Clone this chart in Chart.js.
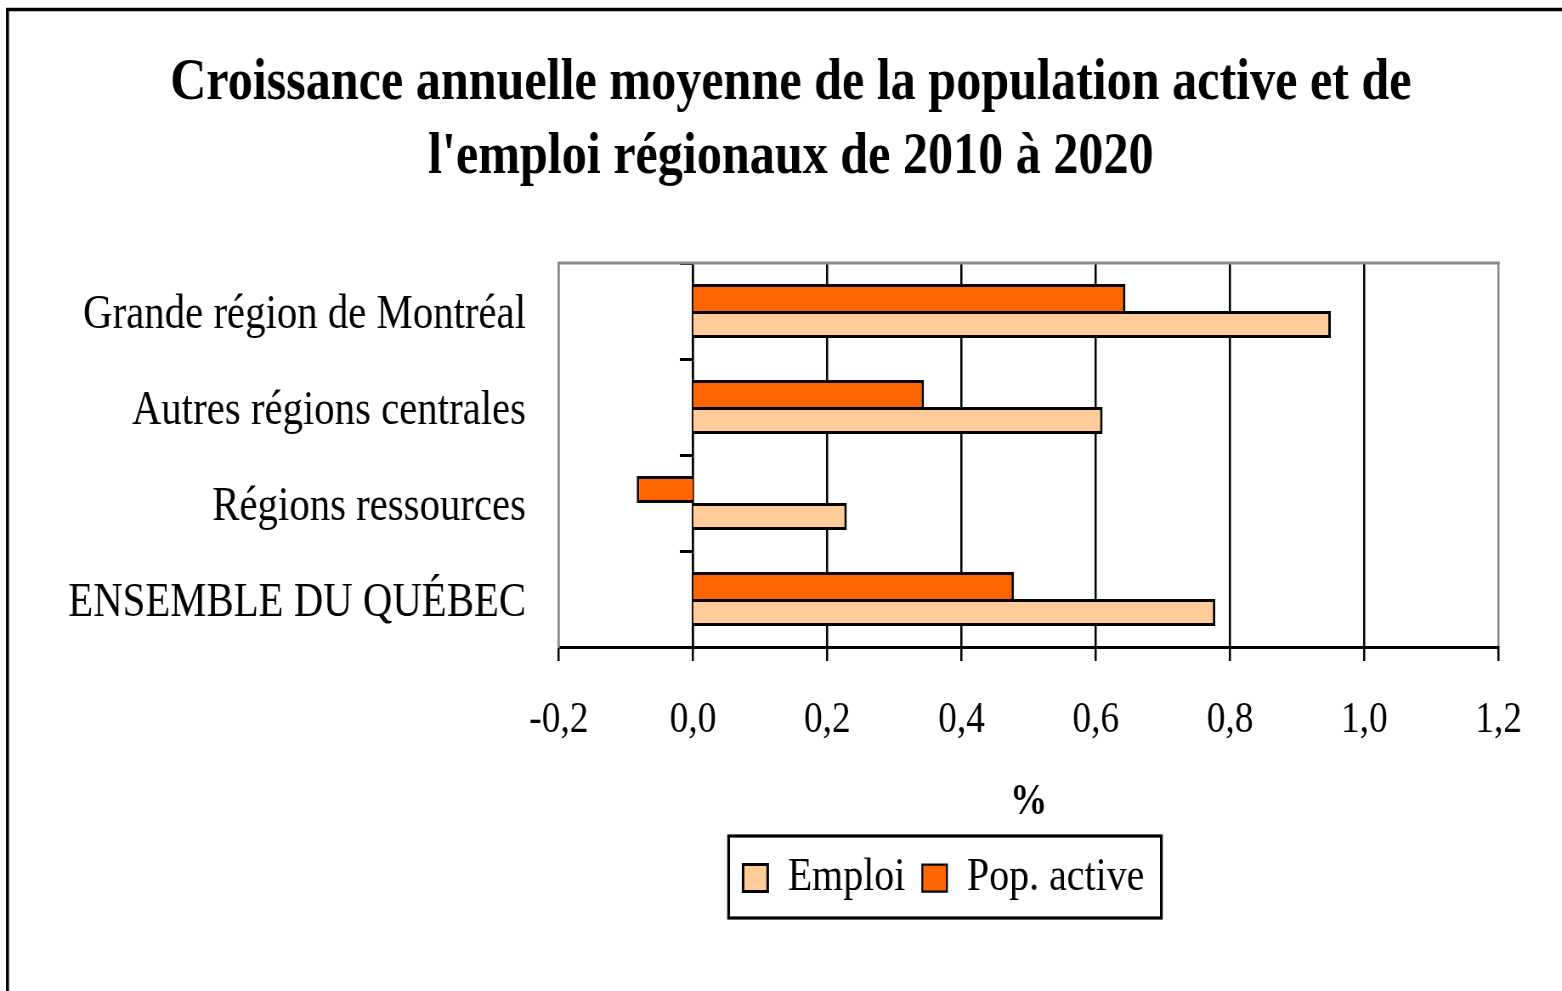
<!DOCTYPE html>
<html><head><meta charset="utf-8">
<script src="https://cdn.jsdelivr.net/npm/chart.js@4.4.0/dist/chart.umd.min.js"></script>
<style>
html,body{margin:0;padding:0;background:#fff;overflow:hidden;}
#wrap{width:1562px;height:991px;overflow:hidden;position:relative;background:#fff;}
#c{position:absolute;left:0;top:0;width:1838px;height:991px;transform:scaleX(0.8498);transform-origin:0 0;}
</style></head><body>
<div id="wrap"><canvas id="c" width="1838" height="991"></canvas></div>
<script>
const titleLines = ['Croissance annuelle moyenne de la population active et de', "l'emploi régionaux de 2010 à 2020"];
const categories = ['Grande région de Montréal', 'Autres régions centrales', 'Régions ressources', 'ENSEMBLE DU QUÉBEC'];
const emploi = [0.950, 0.610, 0.229, 0.778];
const popActive = [0.644, 0.344, -0.084, 0.478];
const seriesNames = ['Emploi', 'Pop. active'];
const xMin = -0.2, xMax = 1.2, xStep = 0.2;
const xTitle = '%';

Chart.defaults.font.family = "'Liberation Serif', 'Times New Roman', serif";
Chart.defaults.color = '#000';

const decor = {
  id: 'decor',
  afterLayout(chart) {
    const lg = chart.legend;
    const s1 = 1110.5 - (lg.left + lg.right) / 2;
    lg.left += s1; lg.right += s1;
    const tb = chart.titleBlock;
    const s2 = 930.6 - (tb.left + tb.right) / 2;
    tb.left += s2; tb.right += s2;
  },
  beforeDatasetsDraw(chart) {
    const {ctx, chartArea: a} = chart;
    ctx.save();
    ctx.strokeStyle = '#888'; ctx.lineWidth = 3;
    ctx.beginPath(); ctx.moveTo(a.left, a.top); ctx.lineTo(a.right + 1.2, a.top); ctx.stroke();
    ctx.restore();
  },
  afterDraw(chart) {
    const {ctx} = chart;
    ctx.save();
    ctx.strokeStyle = '#000'; ctx.lineWidth = 3.5;
    ctx.beginPath(); ctx.moveTo(8.8, 991); ctx.lineTo(8.8, 9.5); ctx.lineTo(1838, 9.5); ctx.stroke();
    const hb = chart.legend.legendHitBoxes;
    if (hb && hb.length) {
      const l = Math.min(...hb.map(h => h.left)) - 17;
      const r = Math.max(...hb.map(h => h.left + h.width)) + 20;
      const cy = hb[0].top + hb[0].height / 2;
      ctx.lineWidth = 3.2;
      ctx.strokeRect(l, cy - 42, r - l, 82);
    }
    ctx.restore();
  }
};

new Chart(document.getElementById('c'), {
  type: 'bar',
  data: {
    labels: categories,
    datasets: [
      {label: seriesNames[1], data: popActive, backgroundColor: '#FF6600', borderColor: '#000',
       borderWidth: c => (c.raw !== undefined && c.raw < 0) ? 3 : {top: 3, right: 3, bottom: 0, left: 3}},
      {label: seriesNames[0], data: emploi, backgroundColor: '#FFCC99', borderColor: '#000', borderWidth: 3}
    ]
  },
  options: {
    indexAxis: 'y',
    responsive: false,
    animation: false,
    devicePixelRatio: 1,
    categoryPercentage: 0.5625,
    barPercentage: 1.0,
    layout: {padding: {top: 0, left: 23, right: 74.5, bottom: 79.5}},
    plugins: {
      title: {display: true, text: titleLines, color: '#000',
        font: {size: 59, weight: 'bold', lineHeight: 74 / 59}, padding: {top: 47, bottom: 68}},
      legend: {position: 'bottom', reverse: true,
        labels: {boxWidth: 29, boxHeight: 27, padding: 20, color: '#000', font: {size: 47}}},
      tooltip: {enabled: false}
    },
    scales: {
      x: {
        type: 'linear', min: xMin, max: xMax,
        ticks: {stepSize: xStep, padding: 32.6, color: '#000', font: {size: 44},
          callback: v => (Math.abs(v) < 1e-9 ? 0 : v).toFixed(1).replace('.', ',')},
        grid: {
          color: c => (c.tick && (Math.abs(c.tick.value - xMin) < 1e-9 || Math.abs(c.tick.value - xMax) < 1e-9)) ? '#888' : '#000',
          lineWidth: 2.5, tickLength: 14, tickColor: '#000', tickWidth: 2.5
        },
        border: {color: '#000', width: 3},
        title: {display: true, text: xTitle, color: '#000', font: {size: 44, weight: 'bold', lineHeight: 1.2}, padding: {top: 0, bottom: 5}},
        afterFit: s => { s.height = 187.5; }
      },
      y: {
        type: 'category', position: 'left',
        grid: {display: false, drawTicks: false},
        border: {display: true, color: '#888', width: 2.5},
        ticks: {font: {size: 48}, padding: 38.6, color: '#000', labelOffset: 4},
        afterFit: s => { s.width = 634.6; }
      },
      y2: {
        type: 'category', axis: 'y', position: {x: 0}, offset: true, z: 1,
        grid: {offset: true, drawOnChartArea: false, tickLength: 14, tickWidth: 3, tickColor: '#000'},
        ticks: {display: false},
        border: {display: true, color: '#000', width: 2.5}
      }
    }
  },
  plugins: [decor]
});
</script>
</body></html>
